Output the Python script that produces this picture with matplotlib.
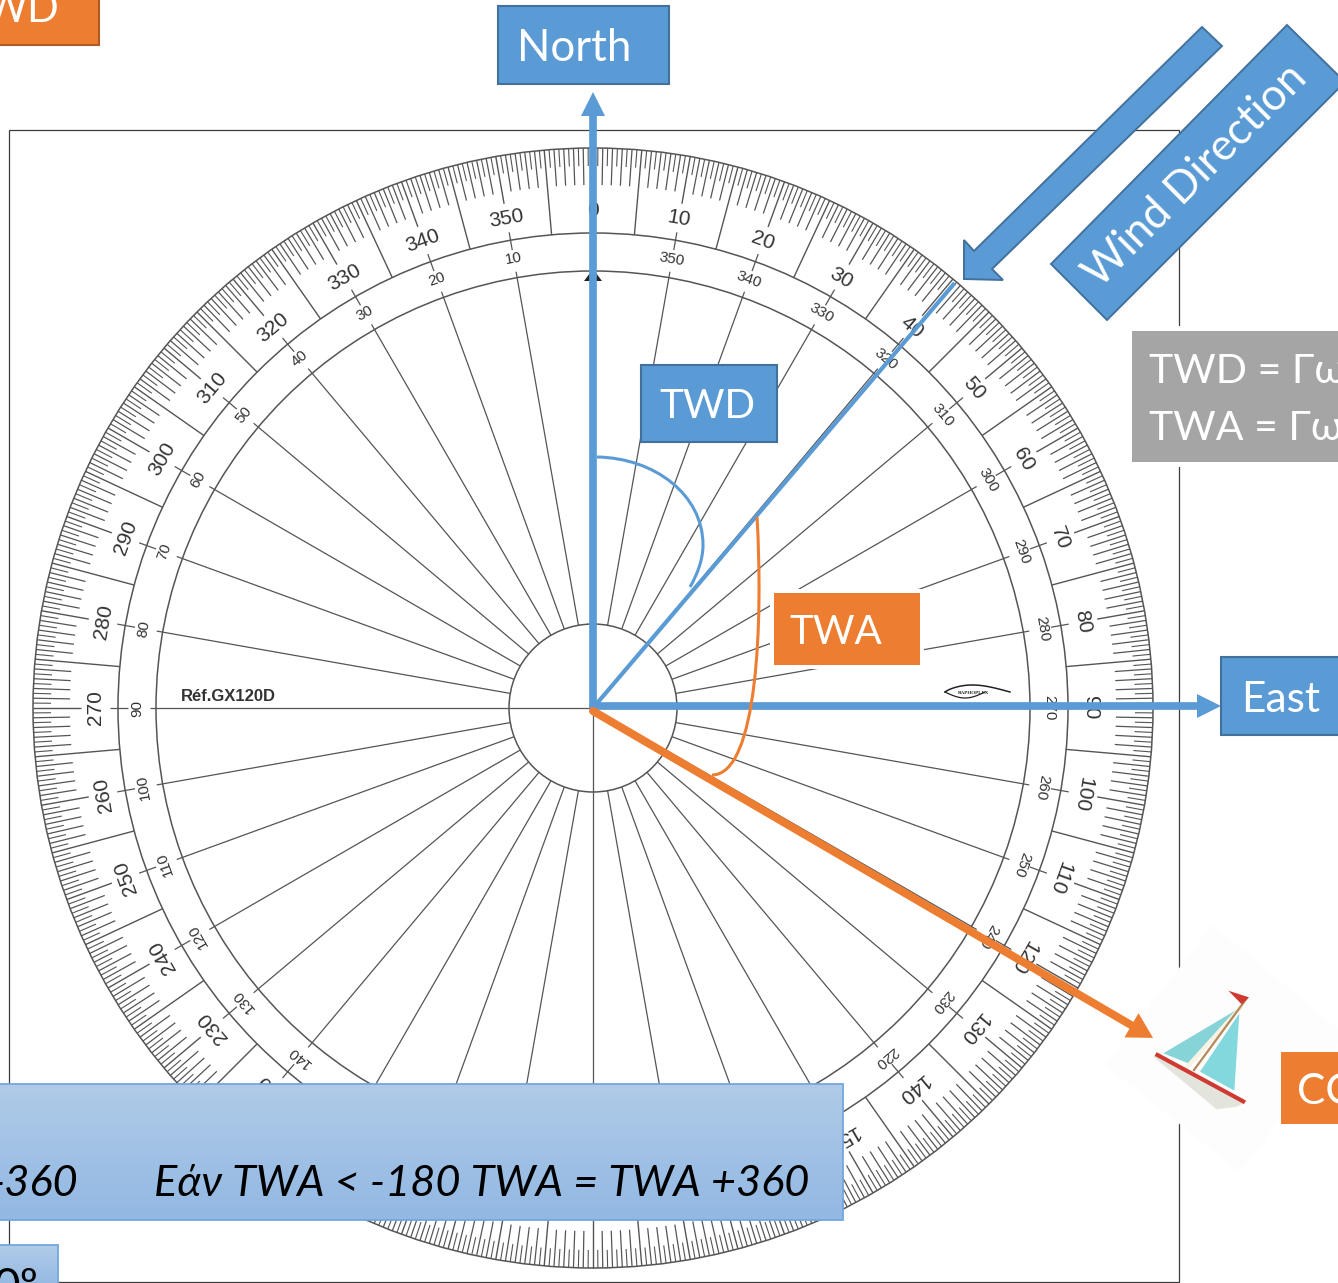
import numpy as np
import matplotlib
matplotlib.use("Agg")
import matplotlib.pyplot as plt
from matplotlib.patches import Circle, Polygon, Rectangle, PathPatch
from matplotlib.path import Path

# ---- data ----
half_degrees = list(np.arange(0, 360, 0.5))
outer_labels = list(range(0, 360, 10))            # compass scale, clockwise
inner_labels = [(360 - a) % 360 for a in outer_labels]  # counter scale
wind_direction_deg = 40.4
course_deg = 120.5
ref_text = "Réf.GX120D"

BLUE = "#5B9BD5"; BLUE_E = "#41719C"
ORANGE = "#ED7D31"; ORANGE_E = "#AE5A21"
GREY = "#A5A5A5"; INK = "#555555"
FONT = ["Lato", "Open Sans", "DejaVu Sans"]

W, H = 1338, 1283
CX, CY = 593, 708
R_OUT, R_BAND, R_IN, R_HUB = 560, 475, 437, 84

fig = plt.figure(figsize=(W/100, H/100), dpi=100)
ax = fig.add_axes([0, 0, 1, 1])
ax.set_axis_off()


def pol(r, deg):
    t = np.radians(deg)
    return CX + r*np.sin(t), CY - r*np.cos(t)


def hidden(x, y):
    # the scale numbers that lie wholly under the formula box are not visible
    return 1095 < y < 1215 and x < 830


def radial(deg, r0, r1, lw=1.0, color=INK, z=2):
    a, b = pol(r0, deg), pol(r1, deg)
    ax.plot([a[0], b[0]], [a[1], b[1]], color=color, lw=lw, solid_capstyle="butt", zorder=z)


def box(x0, y0, x1, y1, fc, ec=None, lw=1.5, margin=0, z=6):
    if margin:
        ax.add_patch(Rectangle((x0-margin, y0-margin), x1-x0+2*margin, y1-y0+2*margin,
                               fc="white", ec="none", zorder=z-0.1))
    ax.add_patch(Rectangle((x0, y0), x1-x0, y1-y0, fc=fc, ec=ec if ec else "none",
                           lw=lw, zorder=z))


def label(x, y, s, size, color="white", z=7, **kw):
    kw.setdefault("ha", "left"); kw.setdefault("va", "baseline")
    ax.text(x, y, s, fontsize=size, color=color, zorder=z, family=FONT, **kw)


def grad_box(x0, y0, x1, y1, z=8):
    top = np.array([0xB0, 0xCB, 0xE8])/255
    bot = np.array([0x92, 0xB8, 0xE3])/255
    g = np.linspace(0, 1, 64)[:, None, None]
    img = top*(1-g) + bot*g
    ax.imshow(img, extent=(x0, x1, y1, y0), aspect="auto", zorder=z, interpolation="bilinear")
    ax.add_patch(Rectangle((x0, y0), x1-x0, y1-y0, fc="none", ec="#74A6DD", lw=1.3, zorder=z+0.1))


def arrow(tip, start, head_len, head_hw, lw_px, color, z=6.6):
    sx, sy = start
    ex, ey = tip
    d = np.hypot(ex-sx, ey-sy)
    ux, uy = (ex-sx)/d, (ey-sy)/d
    bx, by = ex-ux*head_len, ey-uy*head_len
    ax.plot([sx, bx], [sy, by], color=color, lw=lw_px*0.72, solid_capstyle="round", zorder=z)
    ax.add_patch(Polygon([(ex, ey), (bx-uy*head_hw, by+ux*head_hw), (bx+uy*head_hw, by-ux*head_hw)],
                         fc=color, ec="none", zorder=z))


# ---- frame of the protractor picture ----
ax.add_patch(Rectangle((9, 130), 1170, 1152, fc="white", ec="#3c3c3c", lw=0.9, zorder=0.5))

# ---- protractor ----
for r in (R_OUT, R_BAND, R_IN, R_HUB):
    ax.add_patch(Circle((CX, CY), r, fc="none", ec=INK, lw=1.1, zorder=2))

for a in half_degrees:
    if a % 10 == 0:
        radial(a, 512, R_OUT, 1.0)
        radial(a, 465, 483, 0.9)
        radial(a, R_HUB, 443, 0.9)
    elif a % 5 == 0:
        radial(a, R_BAND, R_OUT, 1.0)
    elif a % 1 == 0:
        radial(a, 523, R_OUT, 0.9)
    else:
        radial(a, 542, R_OUT, 0.8)

for a in (0, 90, 180, 270):       # cross inside the hub
    radial(a, 0, R_HUB, 0.9)

for a, i in zip(outer_labels, inner_labels):
    x, y = pol(497, a)
    if not hidden(x, y):
        ax.text(x, y, str(a), fontsize=15, color="#333333", rotation=-a,
                rotation_mode="anchor", ha="center", va="center", family="Liberation Sans", zorder=3)
    x, y = pol(456, a)
    if a != 0 and not hidden(x, y):
        ax.text(x, y, str(i), fontsize=11, color="#333333", rotation=-a,
                rotation_mode="anchor", ha="center", va="center", family="Liberation Sans", zorder=3)

ax.add_patch(Polygon([(593, 269), (584, 281), (602, 281)], fc="#222222", ec="none", zorder=3))
ax.text(181, 701, ref_text, fontsize=12, fontweight="bold", color="#333333",
        family="Liberation Sans", va="baseline", zorder=3)

# maker's mark
t = np.linspace(0, 1, 30)
ax.plot(945+65*t, 692-7*np.sin(np.pi*t**0.8), color="#222222", lw=1.1, zorder=3)
ax.plot(945+40*t, 692+6*np.sin(np.pi*t), color="#222222", lw=0.9, zorder=3)
ax.text(974, 692.5, "RAPHOPLEX", fontsize=3.6, fontweight="bold", color="#222222",
        ha="center", va="center", family="Liberation Serif", zorder=3)

# ---- direction lines ----
we = pol(558, wind_direction_deg)
ax.plot([CX, we[0]], [CY, we[1]], color=BLUE, lw=3.0, solid_capstyle="butt", zorder=4)
arrow((593, 92), (593, 708), 24, 12, 7.7, BLUE, z=5)
arrow((1221, 706), (593, 706), 24, 12, 7.7, BLUE, z=5)
arrow(pol(650, course_deg), (593, 711), 25, 14, 8, ORANGE)

# TWD and TWA arcs
ax.add_patch(PathPatch(Path([(597, 457), (655, 458), (703, 495), (703, 545), (703, 560), (697, 575), (690, 587)],
                            [Path.MOVETO, Path.CURVE4, Path.CURVE4, Path.CURVE4, Path.CURVE4, Path.CURVE4, Path.CURVE4]),
                       fc="none", ec=BLUE, lw=2.2, zorder=5))
ax.add_patch(PathPatch(Path([(757, 517), (763, 620), (758, 775), (712, 775)],
                            [Path.MOVETO, Path.CURVE4, Path.CURVE4, Path.CURVE4]),
                       fc="none", ec=ORANGE, lw=2.2, zorder=5))

# ---- wind arrow and rotated label ----
ax.add_patch(Polygon([(1202, 27), (1222, 46), (992, 269), (1003, 280), (964, 279), (964, 240), (974, 251)],
                     fc=BLUE, ec=BLUE_E, lw=1.4, zorder=6))
ax.add_patch(Polygon([(1287, 25), (1345, 82), (1107, 320), (1051, 264)],
                     fc=BLUE, ec=BLUE_E, lw=1.4, zorder=6))
ax.text(1196, 176, "Wind Direction", fontsize=31.5, color="white", rotation=45, rotation_mode="anchor",
        ha="center", va="center", family=FONT, zorder=7)

# ---- boat picture ----
ax.add_patch(Polygon([(1212, 925), (1345, 1035), (1240, 1172), (1105, 1065)], fc="#FDFDFD", ec="none", zorder=6))


def z3(pts):
    return [(900+x/3, 880+y/3) for x, y in pts]


ax.add_patch(Polygon(z3([(760, 530), (950, 688), (1010, 680), (1040, 665), (770, 520)]), fc="#E3E5DC", ec="none", zorder=6.2))
ax.add_patch(Polygon(z3([(790, 520), (1012, 388), (865, 550)]), fc="#86D3D8", ec="none", zorder=6.2))
ax.add_patch(Polygon(z3([(1018, 400), (1003, 632), (900, 575)]), fc="#83D8DE", ec="none", zorder=6.2))
ax.plot(*zip(*z3([(862, 560), (1020, 385)])), color="#F7F3E4", lw=3, zorder=6.3)
ax.plot(*zip(*z3([(882, 570), (1040, 355)])), color="#B5895A", lw=1.6, zorder=6.4)
ax.plot(*zip(*z3([(767, 522), (1035, 667)])), color="#CF3B32", lw=3, zorder=6.4, solid_capstyle="butt")
ax.add_patch(Polygon(z3([(985, 332), (1047, 352), (1025, 373)]), fc="#CF3B32", ec="none", zorder=6.4))

# ---- boxes ----
box(-5, -5, 99, 45, ORANGE, ORANGE_E)
label(-16, 22, "WD", 30)

box(498, 6, 669, 84, BLUE, BLUE_E)
label(517, 61, "North", 31.5)

box(641, 365, 777, 442, BLUE, BLUE_E)
label(659, 418, "TWD", 29)

box(774, 593, 920, 665, ORANGE, margin=4)
label(789, 644, "TWA", 29)

box(1221, 657, 1345, 735, BLUE, BLUE_E)
label(1241, 712, "East", 30.5)

box(1132, 331, 1345, 462, GREY, margin=5)
label(1149, 383, "TWD = Γω", 29.5)
label(1149, 440, "TWA = Γω", 29.5)

box(1281, 1052, 1345, 1124, ORANGE, margin=2)
label(1297, 1104, "CO", 30.5)

grad_box(-5, 1084, 843, 1220)
label(78, 1196, "-360", 31.2, color="black", z=9, style="italic", ha="right")
label(154, 1196, "Εάν TWA < -180 TWA = TWA +360", 31.2, color="black", z=9, style="italic")

grad_box(-5, 1245, 58, 1290)
label(-6, 1301, "0º", 33, color="black", z=9)

ax.set_xlim(0, W)
ax.set_ylim(H, 0)
fig.savefig("out.png", dpi=100, facecolor="white")
